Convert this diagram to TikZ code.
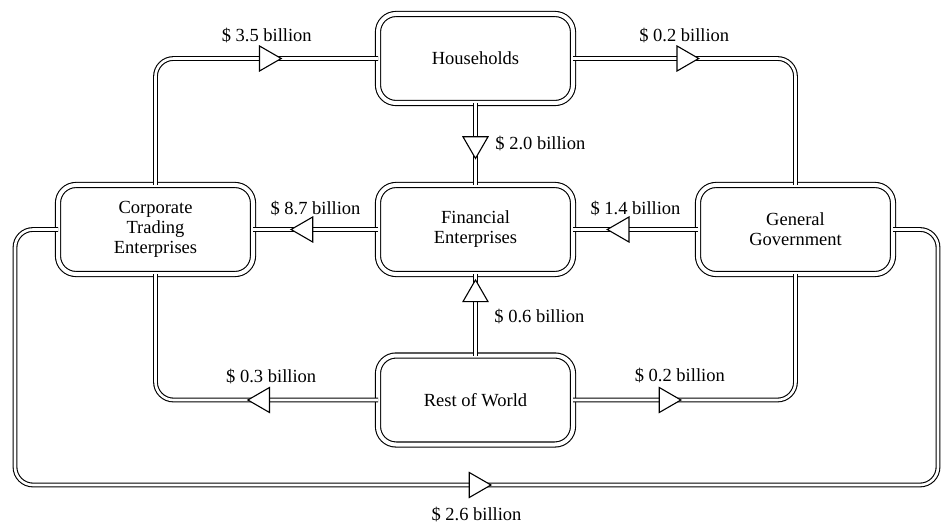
\documentclass[tikz,border=0pt]{standalone}
\usepackage{fontspec}
\setmainfont{Liberation Serif}
\usetikzlibrary{positioning}
\usetikzlibrary{shapes.geometric}

\begin{document}
\begin{tikzpicture}[x=1pt,y=1pt,node distance=125pt,
					font=\fontsize{18.5}{20}\selectfont]
					\tikzstyle{sector}=[shape=rectangle,draw,rounded corners=18pt,double,double distance=4pt,line width=1.1pt,minimum width=195pt,minimum height=89pt,align=center,inner sep=0pt,outer sep=0pt]
					\tikzstyle{flow}=[draw,double,double distance=2.6pt,line width=1.1pt,rounded corners=18pt]
					\tikzstyle{flowhead}=[regular polygon,regular polygon sides=3,shape border rotate=-90,minimum size=28.9pt,inner sep=0pt,outer sep=0pt,draw=black,fill=white,line width=1.1pt,sharp corners,sloped,allow upside down]
					\tikzstyle{hv}=[to path={-| (\tikztotarget) \tikztonodes}]
					\tikzstyle{vh}=[to path={|- (\tikztotarget) \tikztonodes}]
					\useasboundingbox (0,0) rectangle (943,-524);
					
					\node[sector]       (FE) at (475.5,-229.5) {Financial\\Enterprises};
					\node[sector]       (HH) [above=82pt of FE] {Households};
					\node[sector]       (CT) [left=of FE] {Corporate\\Trading\\Enterprises};
					\node[sector]       (GG) [right=of FE] {General\\Government};
					\node[sector]       (RW) [below=81.5pt of FE] {Rest of World};
					\coordinate (loopL) at (15,-485);
					\coordinate (loopR) at (938,-485);
					
					\path (CT) edge[flow,vh] node[flowhead,pos=.75] {} node[pos=.75,above=12pt] {\$ 3.5 billion} (HH)
					(HH) edge[flow,hv] node[flowhead,pos=.25] {} node[pos=.25,above=12pt] {\$ 0.2 billion} (GG)
					(HH) edge[flow] node[flowhead] {} node[right=16pt] {\$ 2.0 billion} (FE)
					(FE) edge[flow] node[flowhead,pos=.58] {} node[above=10pt] {\$ 8.7 billion} (CT)
					(GG) edge[flow] node[flowhead,pos=.61] {} node[above=10pt] {\$ 1.4 billion} (FE)
					(RW) edge[flow] node[flowhead,pos=.75] {} node[right=15pt,yshift=-2pt] {\$ 0.6 billion} (FE)
					(RW) edge[flow,hv] node[flowhead,pos=.26] {} node[pos=.24,above=12pt] {\$ 0.3 billion} (CT)
					(RW) edge[flow,hv] node[flowhead,pos=.21] {} node[pos=.24,above=13pt] {\$ 0.2 billion} (GG)
					;
					\draw[flow] (CT) -| (loopL) -- node[flowhead] {} node[below=18pt] {\$ 2.6 billion} (loopR) |- (GG);
					\end{tikzpicture}
\end{document}
